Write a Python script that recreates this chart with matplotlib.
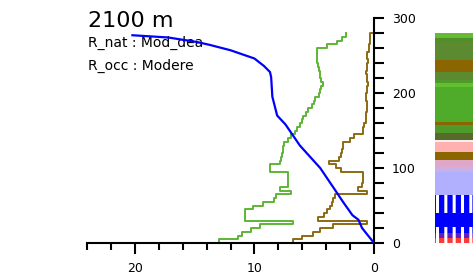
import numpy as np
import matplotlib
matplotlib.use("Agg")
import matplotlib.pyplot as plt

# valeurs (hauteur en m, valeur en %)
pas = 5
r_nat = [13.0, 11.4, 11.0, 10.3, 9.5, 6.8, 10.8, 10.8, 10.8, 10.1,
         9.3, 8.4, 8.2, 6.9, 7.9, 7.2, 7.2, 7.2, 7.2, 8.7,
         8.7, 7.9, 7.8, 7.7, 7.6, 7.6, 7.5, 7.2, 6.9, 6.6,
         6.4, 6.2, 6.0, 5.9, 5.7, 5.5, 5.2, 5.0, 4.9, 4.6,
         4.5, 4.4, 4.3, 4.4, 4.5, 4.5, 4.6, 4.7, 4.8, 4.8,
         4.8, 4.8, 3.9, 3.1, 2.7, 2.3]
r_occ = [6.8, 6.0, 5.1, 4.5, 3.4, 0.6, 4.7, 4.2, 3.9, 3.7,
         3.5, 3.4, 3.3, 0.6, 1.3, 1.0, 0.9, 0.9, 0.9, 2.8,
         3.2, 3.8, 2.9, 2.8, 2.7, 2.6, 2.6, 2.0, 1.7, 0.9,
         0.9, 0.8, 0.7, 0.7, 0.7, 0.6, 0.6, 0.6, 0.7, 0.7,
         0.6, 0.6, 0.5, 0.6, 0.6, 0.7, 0.6, 0.6, 0.5, 0.6,
         0.6, 0.4, 0.4, 0.35, 0.35, 0.35]

# courbe cumulée (bleu)
cum_x = [20.2, 17.2, 14.8, 13.7, 12.0, 10.0, 9.2, 8.7, 8.6, 8.5, 8.1, 7.4,
         6.8, 6.2, 4.5, 3.1, 2.6, 1.8, 1.3, 1.0, 0.0]
cum_y = [277, 274, 268, 264, 257, 246, 236, 228, 221, 195, 170, 158,
         144, 130, 100, 67, 55, 37, 31, 20, 0]

# bande de couleurs à droite (bas, haut, couleur, hachures)
bandes_bas = [0, 7, 13, 21, 40, 64, 95, 101, 111, 121, 135, 137, 147, 157, 161, 208, 213, 217, 228, 244, 268, 273]
bandes_haut = [7, 13, 21, 40, 64, 95, 101, 111, 121, 135, 137, 147, 157, 161, 208, 213, 217, 228, 244, 268, 273, 280]
bandes_coul = ['#ff3838', '#6020c0', '#0000ff', '#0000ff', '#0000ff', '#b0b0ff', '#c8b0e8',
               '#e0a8c8', '#8a6500', '#ffb0b0', '#f4f0f0', '#566a2a', '#4f9a2a', '#8a6500',
               '#4fab2a', '#60c030', '#4f9a2a', '#5b8a30', '#8a6500', '#5b8a30', '#4f8f2a', '#66bb33']
bandes_hach = ['||', '||', '||', '', '||', '', '', '', '', '', '', '', '', '', '', '', '', '', '', '', '', '']


def escalier(vals):
    bords = np.arange(len(vals) + 1) * pas
    y = np.repeat(bords, 2)[1:-1]
    x = np.repeat(vals, 2)
    return x, y


plt.rcParams['font.family'] = ['DejaVu Sans']
plt.rcParams['hatch.color'] = 'white'
plt.rcParams['hatch.linewidth'] = 2.2

W, H = 473, 274
fig = plt.figure(figsize=(W / 100, H / 100), dpi=100)
ax = fig.add_axes([87 / W, (H - 243) / H, (374 - 87) / W, (243 - 18) / H])

xn, yn = escalier(r_nat)
ax.plot(xn, yn, color='#5db534', lw=1.4, zorder=2)
xo, yo = escalier(r_occ)
xo = np.append(xo, 0.0)
yo = np.append(yo, yo[-1])
ax.plot(xo, yo, color='#8c6a14', lw=1.4, zorder=2)
ax.plot(cum_x, cum_y, color='#0000ff', lw=1.6, zorder=3)

ax.set_xlim(24, 0)
ax.set_ylim(0, 300)
for s in ['left', 'top']:
    ax.spines[s].set_visible(False)
for s in ['right', 'bottom']:
    ax.spines[s].set_linewidth(1.5)
ax.yaxis.tick_right()
ax.set_xticks([20, 10, 0])
ax.set_xticks(np.arange(0, 25, 2), minor=True)
ax.set_yticks([0, 100, 200, 300])
ax.set_yticks(np.arange(0, 301, 20), minor=True)
ax.tick_params(axis='x', which='major', length=8, width=1.5, labelsize=9, pad=6)
ax.tick_params(axis='x', which='minor', length=5, width=1.5)
ax.tick_params(axis='y', which='major', length=7, width=1.5, labelsize=9, pad=6)
ax.tick_params(axis='y', which='minor', length=7, width=1.5)

ax.text(88 / W, 1 - 27 / H, "2100 m", transform=fig.transFigure, fontsize=16,
        va='baseline', ha='left', zorder=1)
ax.text(88 / W, 1 - 47 / H, "R_nat : Mod_dea", transform=fig.transFigure, fontsize=10,
        va='baseline', ha='left', zorder=1)
ax.text(88 / W, 1 - 70 / H, "R_occ : Modere", transform=fig.transFigure, fontsize=10,
        va='baseline', ha='left', zorder=1)

# bande de couleurs
axb = fig.add_axes([435 / W, (H - 243) / H, 60 / W, (243 - 18) / H])
for b, h, c, ht in zip(bandes_bas, bandes_haut, bandes_coul, bandes_hach):
    axb.bar(0.5, h - b, bottom=b, width=1, color=c, hatch=ht, edgecolor='white' if ht else c, linewidth=0)
axb.set_xlim(0, 1)
axb.set_ylim(0, 300)
axb.axis('off')

fig.savefig('out.png', dpi=100)
